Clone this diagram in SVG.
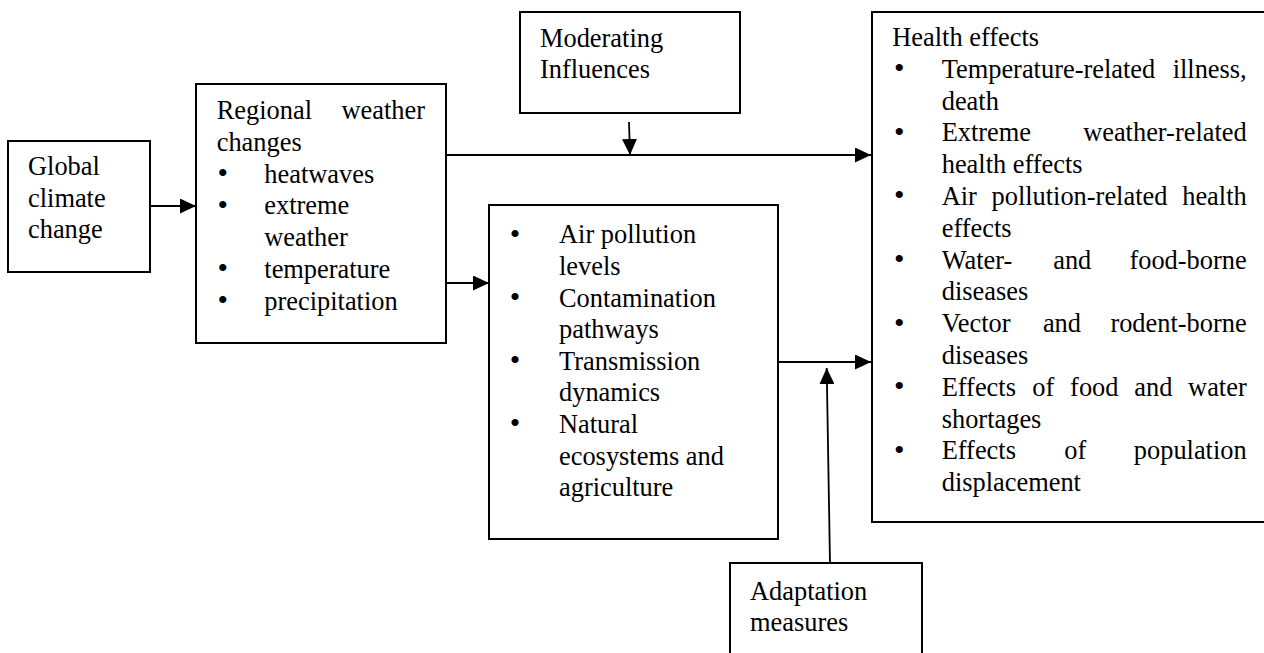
<svg xmlns="http://www.w3.org/2000/svg" width="1264" height="653" viewBox="0 0 1264 653">
  <style>
    .box { fill: #fff; stroke: #000; stroke-width: 2; }
    .wire { fill: none; stroke: #000; stroke-width: 1.8; }
    text { font-family: "Liberation Serif", "Times New Roman", serif; font-size: 26.4px; fill: #000; }
    .end { text-anchor: end; }
    .dot { text-anchor: middle; font-size: 30px; }
  </style>
  <defs>
    <marker id="head" markerUnits="userSpaceOnUse" markerWidth="16" markerHeight="15" refX="16" refY="7.5" orient="auto">
      <path d="M0,0 L16,7.5 L0,15 Z" fill="#000"/>
    </marker>
  </defs>

  <rect width="1264" height="653" fill="#fff"/>

  <!-- connectors -->
  <g id="connectors">
    <line class="wire" x1="150" y1="206" x2="196" y2="206" marker-end="url(#head)"/>
    <line class="wire" x1="446" y1="155" x2="871" y2="155" marker-end="url(#head)"/>
    <line class="wire" x1="629" y1="122" x2="630" y2="155" marker-end="url(#head)"/>
    <line class="wire" x1="446" y1="283" x2="489" y2="283" marker-end="url(#head)"/>
    <line class="wire" x1="778" y1="362" x2="871" y2="362" marker-end="url(#head)"/>
    <line class="wire" x1="830" y1="563" x2="826.7" y2="368" marker-end="url(#head)"/>
  </g>

  <!-- Global climate change -->
  <g id="global">
    <rect class="box" x="8" y="141" width="142" height="131"/>
    <text x="28" y="175">Global</text>
    <text x="28" y="206.6">climate</text>
    <text x="28" y="238.2">change</text>
  </g>

  <!-- Regional weather changes -->
  <g id="regional">
    <rect class="box" x="196" y="84" width="250" height="259"/>
    <text x="216.7" y="119">Regional</text>
    <text class="end" x="425" y="119">weather</text>
    <text x="216.7" y="150.8">changes</text>
    <text class="dot" x="222.7" y="183">•</text>
    <text x="264.3" y="182.6">heatwaves</text>
    <text class="dot" x="222.7" y="214.8">•</text>
    <text x="264.3" y="214.4">extreme</text>
    <text x="264.3" y="246.2">weather</text>
    <text class="dot" x="222.7" y="278.4">•</text>
    <text x="264.3" y="278">temperature</text>
    <text class="dot" x="222.7" y="310.2">•</text>
    <text x="264.3" y="309.8">precipitation</text>
  </g>

  <!-- Moderating influences -->
  <g id="moderating">
    <rect class="box" x="520" y="12" width="220" height="101"/>
    <text x="540" y="46.5">Moderating</text>
    <text x="540" y="78.3">Influences</text>
  </g>

  <!-- Intermediate pathways -->
  <g id="pathways">
    <rect class="box" x="489" y="205" width="289" height="334"/>
    <text class="dot" x="515" y="243.7">•</text>
    <text x="559" y="243.3">Air pollution</text>
    <text x="559" y="274.9">levels</text>
    <text class="dot" x="515" y="306.9">•</text>
    <text x="559" y="306.5">Contamination</text>
    <text x="559" y="338.1">pathways</text>
    <text class="dot" x="515" y="370.1">•</text>
    <text x="559" y="369.7">Transmission</text>
    <text x="559" y="401.3">dynamics</text>
    <text class="dot" x="515" y="433.3">•</text>
    <text x="559" y="432.9">Natural</text>
    <text x="559" y="464.5">ecosystems and</text>
    <text x="559" y="496.1">agriculture</text>
  </g>

  <!-- Health effects -->
  <g id="health">
    <rect class="box" x="872" y="12" width="396" height="510"/>
    <text x="892.3" y="46">Health effects</text>

    <text class="dot" x="899.3" y="78.2">•</text>
    <text x="941.7" y="77.8">Temperature-related</text>
    <text class="end" x="1246.7" y="77.8">illness,</text>
    <text x="941.7" y="109.6">death</text>

    <text class="dot" x="899.3" y="141.8">•</text>
    <text x="941.7" y="141.4">Extreme</text>
    <text class="end" x="1246.7" y="141.4">weather-related</text>
    <text x="941.7" y="173.2">health effects</text>

    <text class="dot" x="899.3" y="205.4">•</text>
    <text x="941.7" y="205">Air</text>
    <text x="991.5" y="205">pollution-related</text>
    <text class="end" x="1246.7" y="205">health</text>
    <text x="941.7" y="236.8">effects</text>

    <text class="dot" x="899.3" y="269">•</text>
    <text x="941.7" y="268.6">Water-</text>
    <text x="1053.2" y="268.6">and</text>
    <text class="end" x="1246.7" y="268.6">food-borne</text>
    <text x="941.7" y="300.4">diseases</text>

    <text class="dot" x="899.3" y="332.6">•</text>
    <text x="941.7" y="332.2">Vector</text>
    <text x="1042.9" y="332.2">and</text>
    <text class="end" x="1246.7" y="332.2">rodent-borne</text>
    <text x="941.7" y="364">diseases</text>

    <text class="dot" x="899.3" y="396.2">•</text>
    <text x="941.7" y="395.8">Effects</text>
    <text x="1032.3" y="395.8">of</text>
    <text x="1070.1" y="395.8">food</text>
    <text x="1134.3" y="395.8">and</text>
    <text class="end" x="1246.7" y="395.8">water</text>
    <text x="941.7" y="427.6">shortages</text>

    <text class="dot" x="899.3" y="459.8">•</text>
    <text x="941.7" y="459.4">Effects</text>
    <text x="1064.2" y="459.4">of</text>
    <text class="end" x="1246.7" y="459.4">population</text>
    <text x="941.7" y="491.2">displacement</text>
  </g>

  <!-- Adaptation measures -->
  <g id="adaptation">
    <rect class="box" x="730" y="563" width="192" height="100"/>
    <text x="750" y="599.5">Adaptation</text>
    <text x="750" y="631">measures</text>
  </g>
</svg>
